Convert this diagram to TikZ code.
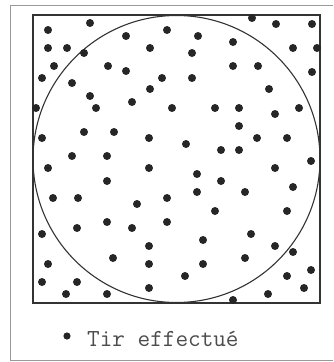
\documentclass[tikz,border=0pt]{standalone}
\usepackage{fontspec}
\usetikzlibrary{positioning}

\tikzset{
  tir/.style={fill=black!85},
  cadre/.style={draw=black!40, line width=0.9pt},
  legendtext/.style={font=\ttfamily\fontsize{24.5}{27}\selectfont, text=black!70, inner sep=0pt, anchor=base west}
}

\begin{document}
\begin{tikzpicture}[x=1pt, y=-1pt]
  \useasboundingbox (0,0) rectangle (333,362);

  % Outer frame (open on the right)
  \draw[cadre] (333,5) -- (10,5) -- (10,360) -- (333,360);

  % Square and inscribed circle
  \draw[line width=1.4pt, black!80] (33,15) rectangle (320,303);
  \draw[line width=1.1pt, black!80] (176.5,159) circle (143.5);

  % Shots
  \foreach \x/\y in {
    48/30, 90/23, 126/36, 167/30, 48/48, 67/48, 84/53, 150/48,
    54/66, 108/66, 126/71, 42/78, 72/83, 162/78, 150/89, 90/96,
    96/108, 132/102, 36/108, 172/108, 42/138, 84/132, 114/132, 149/138,
    72/156, 107/156,
    198/36, 252/18, 276/24, 312/24, 233/42, 192/53, 293/48, 317/48,
    233/66, 258/66, 312/72, 192/78, 269/89, 215/108, 239/108, 275/114,
    299/108, 239/126, 257/138, 287/138, 186/144, 221/150, 239/150, 311/161,
    48/168, 149/168, 107/181, 53/198, 78/198, 137/204, 167/198, 42/234,
    77/228, 107/222, 132/228, 167/222, 149/246, 113/258, 48/264, 149/264,
    42/282, 77/282, 149/288, 66/294, 107/294,
    275/168, 197/174, 221/181, 293/187, 197/192, 245/192, 215/211, 287/211,
    203/240, 251/234, 275/246, 293/252, 203/264, 245/258, 185/276, 287/276,
    311/270, 304/288, 268/294, 233/300}
    \fill[tir] (\x,\y) circle (4);

  % Legend
  \fill[tir] (67,336) circle (3.6);
  \node[legendtext] (legende) at (87,346) {Tir effectué};
\end{tikzpicture}
\end{document}
